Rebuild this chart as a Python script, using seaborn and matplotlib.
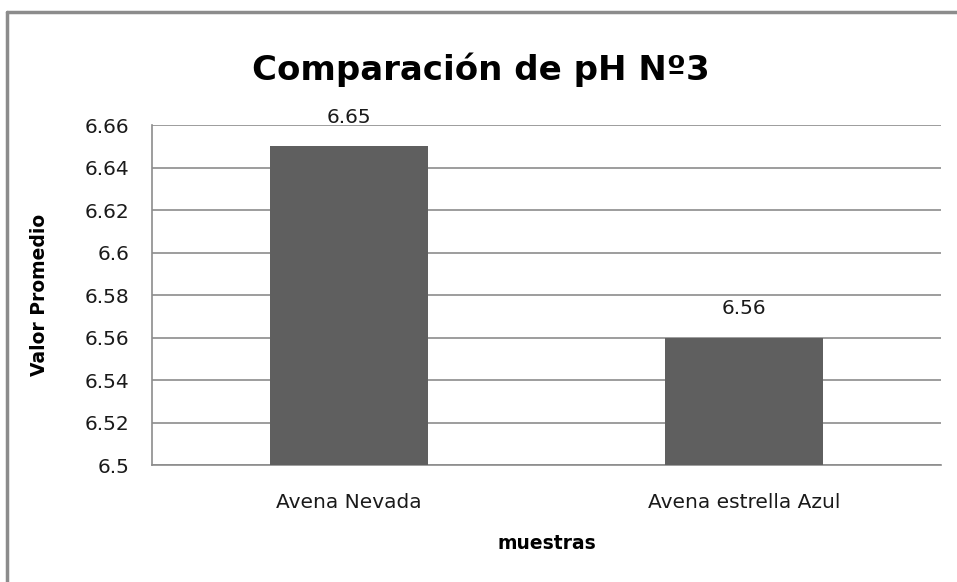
import pandas as pd
import matplotlib.pyplot as plt
import seaborn as sns
from matplotlib.lines import Line2D

# datos del grafico
muestras = ['Avena Nevada', 'Avena estrella Azul']
valores = [6.65, 6.56]
y_ticks = [6.5, 6.52, 6.54, 6.56, 6.58, 6.6, 6.62, 6.64, 6.66]
y_labels = ['6.5', '6.52', '6.54', '6.56', '6.58', '6.6', '6.62', '6.64', '6.66']

df = pd.DataFrame({'muestras': muestras, 'valor': valores})

sns.set_style('white')
plt.rcParams['font.family'] = ['DejaVu Sans']

fig = plt.figure(figsize=(9.57, 5.82), dpi=100)
ax = fig.add_axes([0.1588, 0.201, 0.8245, 0.5842])

sns.barplot(data=df, x='muestras', y='valor', color='#5f5f5f', width=0.4,
            saturation=1, linewidth=0, ax=ax, zorder=3)

ax.set_ylim(6.5, 6.66)
ax.set_xlim(-0.5, 1.5)
ax.set_yticks(y_ticks)
ax.set_yticklabels(y_labels, fontsize=14.5, color='#1a1a1a')
ax.grid(True, axis='y', color='#8c8c8c', linewidth=1.2, zorder=0)
ax.set_axisbelow(True)

# ticks en los limites de las categorias (estilo Excel)
ax.set_xticks([-0.5, 0.5, 1.5], minor=True)
ax.tick_params(axis='x', which='major', length=0, pad=20, labelsize=14.5, labelcolor='#1a1a1a')
ax.tick_params(axis='x', which='minor', length=8, color='#8c8c8c', width=1.2)
ax.tick_params(axis='y', length=8, color='#8c8c8c', width=1.2, pad=8)

for s in ['top', 'right']:
    ax.spines[s].set_visible(False)
for s in ['left', 'bottom']:
    ax.spines[s].set_color('#8c8c8c')
    ax.spines[s].set_linewidth(1.2)

# etiquetas de valor
for i, v in enumerate(valores):
    ax.annotate(f'{v:.2f}', (i, v), xytext=(0, 14), textcoords='offset points',
                ha='center', va='bottom', fontsize=14.5, color='#1a1a1a')

ax.set_xlabel('muestras', fontsize=13.5, fontweight='bold', labelpad=16, color='black')
ax.set_ylabel('Valor Promedio', fontsize=13.5, fontweight='bold', labelpad=26, color='black')

fig.text(0.502, 0.88, 'Comparación de pH Nº3', ha='center', va='center',
         fontsize=24.5, fontweight='bold', color='black')

# marco del area del grafico (solo arriba e izquierda visibles)
fig.add_artist(Line2D([7 / 957, 7 / 957], [0, 1 - 12 / 582], color='#8c8c8c', linewidth=2.5))
fig.add_artist(Line2D([7 / 957, 1], [1 - 12 / 582, 1 - 12 / 582], color='#8c8c8c', linewidth=2.5))

plt.savefig('out.png', dpi=100)
